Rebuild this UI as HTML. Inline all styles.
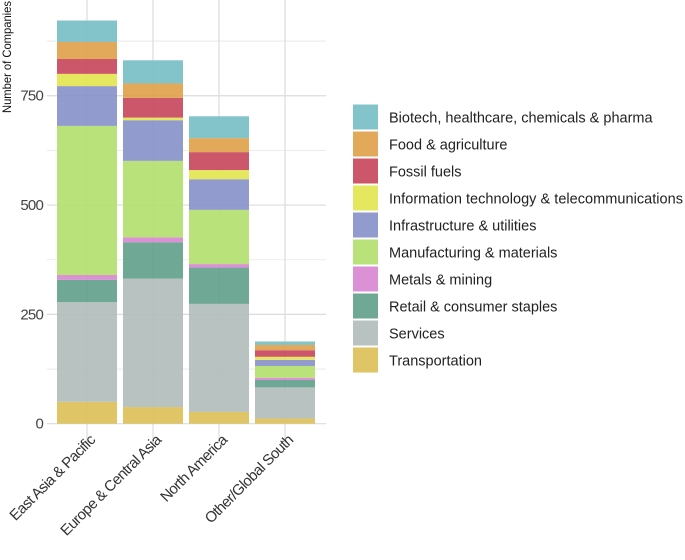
<!DOCTYPE html>
<html><head><meta charset="utf-8"><style>
body{margin:0;background:#fff;}
svg{display:block;font-family:"Liberation Sans",sans-serif;}
</style></head><body>
<svg id="chart" width="685" height="560" viewBox="0 0 685 560" xmlns="http://www.w3.org/2000/svg">
<g id="grid"></g>
<g id="bars"></g>
<g id="yaxis"></g>
<g id="xaxis"></g>
<text transform="translate(11,57) rotate(-90)" text-anchor="middle" font-size="12" fill="#111" textLength="112" lengthAdjust="spacingAndGlyphs">Number of Companies</text>
<g id="legend"></g>
</svg>
<script>
const regions = ["East Asia & Pacific","Europe & Central Asia","North America","Other/Global South"];
const sectors = ["Transportation","Services","Retail & consumer staples","Metals & mining","Manufacturing & materials","Infrastructure & utilities","Information technology & telecommunications","Fossil fuels","Food & agriculture","Biotech, healthcare, chemicals & pharma"];
const colors = ["#dcbf55","#b0bdba","#5f9f8a","#d884d0","#b1e06c","#8690c8","#e2e54c","#c8455a","#e0a048","#76bcc4"];
const transportation = [50,38,27,12];
const services = [228,294,247,71];
const retail = [51,83,83,17];
const metals = [11,11,8,5];
const manufacturing = [341,175,124,27];
const infrastructure = [91,93,70,14];
const infoTech = [28,6,21,7];
const fossil = [34,45,41,15];
const food = [39,33,32,12];
const biotech = [49,53,50,8];
const series = [transportation,services,retail,metals,manufacturing,infrastructure,infoTech,fossil,food,biotech];
const yTicks = [0,250,500,750];
const yMinor = [125,375,625,875];

const NS="http://www.w3.org/2000/svg";
const plotL=47, plotR=326, y0=423.7, pxPerUnit=0.4373;
const band=66, barW=60, firstCenter=87;
const y = v => y0 - v*pxPerUnit;
const x = i => firstCenter + i*band;
function mk(tag, attrs, parent){const e=document.createElementNS(NS,tag);for(const k in attrs)e.setAttribute(k,attrs[k]);parent.appendChild(e);return e;}
const grid=document.getElementById('grid'), bars=document.getElementById('bars'), ya=document.getElementById('yaxis'), xa=document.getElementById('xaxis'), lg=document.getElementById('legend');

yMinor.forEach(v=>{const l=mk('line',{x1:plotL,x2:plotR,y1:y(v),y2:y(v),stroke:'#e6e6e6','stroke-width':0.8},grid);

});
yTicks.forEach(v=>{const l=mk('line',{x1:plotL,x2:plotR,y1:y(v),y2:y(v),stroke:'#dcdcdc','stroke-width':1.2},grid);


const t=mk('text',{x:43,y:y(v)+5,'text-anchor':'end','font-size':15,fill:'#444','letter-spacing':-0.8},ya);t.textContent=v;

});
regions.forEach((r,i)=>{const l=mk('line',{x1:x(i),x2:x(i),y1:0,y2:443,stroke:'#dcdcdc','stroke-width':1.2},grid);

});

regions.forEach((r,i)=>{let cum=0;
series.forEach((s,k)=>{const v=s[i];const rc=mk('rect',{x:x(i)-barW/2,y:y(cum+v),width:barW,height:v*pxPerUnit,fill:colors[k],'fill-opacity':0.9},bars);


cum+=v;});
const t=mk('text',{transform:`translate(${x(i)+9},${441}) rotate(-45)`,'text-anchor':'end','font-size':15,fill:'#333','letter-spacing':-0.6},xa);t.textContent=r;

});

const legOrder=sectors.map((s,k)=>k).reverse();
legOrder.forEach((k,j)=>{const yy=104.5+j*27;
const g=mk('g',{},lg);


mk('rect',{x:353,y:yy,width:25,height:25,fill:colors[k],'fill-opacity':0.9},g);
const t=mk('text',{x:389,y:yy+18,'font-size':14.5,fill:'#222'},g);t.textContent=sectors[k];
if(sectors[k].length>40)t.setAttribute('textLength',294);});
</script>
</body></html>
